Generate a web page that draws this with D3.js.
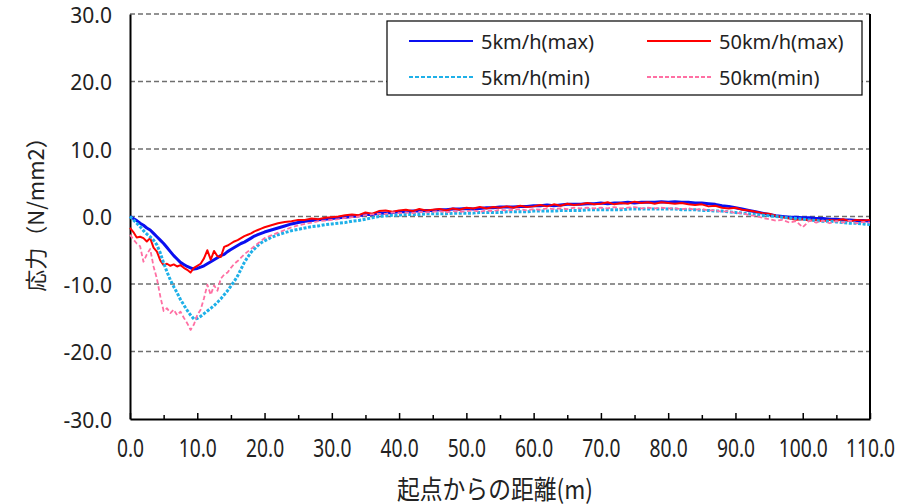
<!DOCTYPE html>
<html>
<head>
<meta charset="utf-8">
<script src="https://cdn.jsdelivr.net/npm/d3@7"></script>
<style>
  body { margin: 0; background: #fff; }
  svg { display: block; }
</style>
</head>
<body>
<svg id="chart" width="903" height="504"></svg>
<script>
// Distance from the start point (m): 0.5 m steps up to 20 m, then 1 m steps
const distance = [
  0, 0.5, 1, 1.5, 2, 2.5, 3, 3.5, 4, 4.5, 5, 5.5, 6, 6.5, 7, 7.5, 8, 8.5, 9, 9.5,
  10, 10.5, 11, 11.5, 12, 12.5, 13, 13.5, 14, 14.5, 15, 15.5, 16, 16.5, 17, 17.5, 18, 18.5, 19, 19.5, 20,
  21, 22, 23, 24, 25, 26, 27, 28, 29, 30,
  31, 32, 33, 34, 35, 36, 37, 38, 39, 40,
  41, 42, 43, 44, 45, 46, 47, 48, 49, 50,
  51, 52, 53, 54, 55, 56, 57, 58, 59, 60,
  61, 62, 63, 64, 65, 66, 67, 68, 69, 70,
  71, 72, 73, 74, 75, 76, 77, 78, 79, 80,
  81, 82, 83, 84, 85, 86, 87, 88, 89, 90,
  91, 92, 93, 94, 95, 96, 97, 98, 99, 100,
  101, 102, 103, 104, 105, 106, 107, 108, 109, 110
];

// Stress (N/mm2), 5 km/h, maximum
const max5kmh = [
  0, -0.3, -0.6, -1.0, -1.3, -1.7, -2.0, -2.5, -3.0, -3.5,
  -4.0, -4.6, -5.2, -5.8, -6.3, -6.8, -7.1, -7.4, -7.6, -7.8,
  -7.7, -7.5, -7.3, -7.0, -6.7, -6.4, -6.1, -5.8, -5.6, -5.2,
  -4.9, -4.6, -4.3, -4.0, -3.8, -3.5, -3.2, -2.9, -2.7, -2.5, -2.3,
  -2.0, -1.7, -1.4, -1.1, -0.9, -0.7, -0.6, -0.5, -0.4, -0.3,
  -0.2, -0.1, 0.0, 0.1, 0.3, 0.3, 0.5, 0.5, 0.6, 0.7,
  0.7, 0.8, 0.8, 0.9, 0.9, 1.0, 1.0, 1.1, 1.1, 1.2,
  1.1, 1.2, 1.3, 1.3, 1.4, 1.4, 1.4, 1.5, 1.5, 1.6,
  1.6, 1.7, 1.6, 1.7, 1.8, 1.8, 1.8, 1.9, 1.9, 2.0,
  1.9, 2.0, 2.0, 2.1, 2.0, 2.1, 2.1, 2.1, 2.2, 2.1,
  2.2, 2.1, 2.1, 2.0, 2.0, 1.9, 1.8, 1.6, 1.5, 1.3,
  1.1, 0.9, 0.7, 0.5, 0.3, 0.1, 0.0, -0.1, -0.1, -0.2,
  -0.2, -0.3, -0.3, -0.4, -0.4, -0.5, -0.5, -0.6, -0.6, -0.7
];

// Stress (N/mm2), 50 km/h, maximum
const max50kmh = [
  -1.7, -2.3, -3.1, -3.0, -3.2, -3.7, -3.2, -4.6, -5.2, -6.5,
  -7.2, -7.0, -7.3, -7.1, -7.4, -7.2, -7.6, -7.9, -8.3, -7.6,
  -7.3, -7.0, -6.2, -5.0, -6.4, -5.1, -5.9, -6.0, -4.5, -4.3,
  -4.0, -3.7, -3.5, -3.2, -2.9, -2.7, -2.5, -2.2, -2.0, -1.8, -1.6,
  -1.3, -1.0, -0.8, -0.7, -0.5, -0.5, -0.3, -0.4, -0.2, -0.1,
  0.0, 0.2, 0.3, 0.2, 0.6, 0.4, 0.8, 0.9, 0.7, 0.9,
  1.0, 0.8, 1.1, 0.9, 1.0, 1.1, 0.9, 1.2, 1.0, 1.3,
  1.2, 1.4, 1.2, 1.4, 1.3, 1.5, 1.3, 1.6, 1.4, 1.5,
  1.7, 1.5, 1.8, 1.6, 1.9, 1.7, 1.8, 2.0, 1.8, 1.9,
  2.1, 1.8, 2.0, 1.9, 2.2, 2.0, 2.1, 1.9, 2.1, 2.0,
  1.9, 2.0, 1.8, 1.7, 1.8, 1.5, 1.6, 1.3, 1.2, 1.3,
  1.0, 0.9, 0.7, 0.5, 0.4, 0.1, -0.1, -0.3, -0.5, -0.4,
  -0.6, -0.5, -0.7, -0.5, -0.6, -0.4, -0.7, -0.5, -0.6, -0.5
];

// Stress (N/mm2), 5 km/h, minimum
const min5kmh = [
  0, -0.5, -1.0, -1.5, -2.1, -2.6, -3.0, -3.5, -4.2, -5.4,
  -6.9, -8.2, -9.4, -10.4, -11.3, -12.3, -13.1, -13.9, -14.6, -15.2,
  -15.1, -14.8, -14.4, -14.0, -13.6, -13.2, -12.7, -12.2, -11.6, -11.0,
  -10.3, -9.6, -8.8, -7.8, -6.8, -6.0, -5.3, -4.8, -4.3, -3.9, -3.6,
  -3.1, -2.7, -2.4, -2.1, -1.9, -1.7, -1.5, -1.4, -1.2, -1.1,
  -1.0, -0.9, -0.7, -0.6, -0.4, -0.2, 0.0, 0.1, 0.2, 0.2,
  0.3, 0.3, 0.3, 0.4, 0.4, 0.4, 0.4, 0.5, 0.5, 0.5,
  0.5, 0.6, 0.6, 0.6, 0.6, 0.7, 0.7, 0.7, 0.7, 0.8,
  0.8, 0.8, 0.8, 0.9, 0.9, 0.9, 0.9, 1.0, 1.0, 1.0,
  1.0, 1.0, 1.0, 1.1, 1.1, 1.1, 1.1, 1.1, 1.1, 1.1,
  1.1, 1.0, 1.0, 1.0, 0.9, 0.9, 0.8, 0.8, 0.7, 0.6,
  0.5, 0.4, 0.3, 0.2, 0.1, 0.0, -0.1, -0.2, -0.3, -0.4,
  -0.5, -0.6, -0.7, -0.7, -0.8, -0.9, -1.0, -1.0, -1.1, -1.2
];

// Stress (N/mm2), 50 km/h, minimum
const min50kmh = [
  -2.7, -3.4, -4.0, -4.4, -6.7, -5.6, -4.8, -7.4, -9.2, -11.8,
  -14.0, -13.6, -14.3, -13.8, -14.6, -14.1, -15.0, -15.8, -16.8, -16.0,
  -14.6, -13.8, -12.1, -10.1, -11.6, -10.2, -11.0, -9.2, -8.6, -8.3,
  -7.6, -7.0, -6.6, -6.1, -5.6, -5.2, -4.8, -4.4, -4.0, -3.6, -3.2,
  -2.8, -2.4, -2.0, -1.6, -1.3, -1.1, -0.9, -0.7, -0.6, -0.5,
  -0.4, -0.2, -0.1, 0.0, 0.2, 0.3, 0.4, 0.4, 0.6, 0.5,
  0.6, 0.5, 0.7, 0.6, 0.7, 0.8, 0.6, 0.8, 0.7, 0.8,
  0.9, 0.7, 0.9, 0.8, 1.0, 0.9, 1.0, 1.1, 0.9, 1.1,
  1.0, 1.2, 1.1, 1.2, 1.1, 1.3, 1.2, 1.3, 1.2, 1.3,
  1.2, 1.4, 1.2, 1.3, 1.4, 1.2, 1.3, 1.2, 1.3, 1.2,
  1.2, 1.1, 1.2, 1.0, 1.1, 0.9, 0.9, 0.7, 0.8, 0.5,
  0.5, 0.2, 0.1, -0.2, -0.4, -0.6, -0.5, -0.9, -0.7, -1.6,
  -0.6, -0.9, -0.6, -1.0, -0.7, -0.9, -0.6, -1.0, -0.8, -0.9
];

const yTicks = [-30, -20, -10, 0, 10, 20, 30];
const xTicks = [0, 10, 20, 30, 40, 50, 60, 70, 80, 90, 100, 110];
const xMinorTicks = [5, 15, 25, 35, 45, 55, 65, 75, 85, 95, 105];
const seriesNames = ["5km/h(max)", "50km/h(max)", "5km/h(min)", "50km(min)"];
const xTitle = "起点からの距離(m)";
const yTitle = "応力（N/mm2）";

const series = [
  { name: seriesNames[0], values: max5kmh,  color: "#0a0ff0", width: 3,   dash: null },
  { name: seriesNames[1], values: max50kmh, color: "#ff0000", width: 2,   dash: null },
  { name: seriesNames[2], values: min5kmh,  color: "#1eb0e8", width: 3,   dash: "3,1.6" },
  { name: seriesNames[3], values: min50kmh, color: "#ff6fa3", width: 1.8, dash: "4.5,2.5" }
];

const plotLeft = 130, plotRight = 870, plotTop = 14, plotBottom = 419;
const svg = d3.select("#chart");
const x = d3.scaleLinear().domain([0, 110]).range([plotLeft, plotRight]);
const y = d3.scaleLinear().domain([-30, 30]).range([plotBottom, plotTop]);
const fmt = d => d.toFixed(1);

// horizontal dashed gridlines
svg.append("g")
  .selectAll("line")
  .data(yTicks.filter(v => v > -30))
  .join("line")
  .attr("x1", plotLeft).attr("x2", plotRight)
  .attr("y1", d => y(d)).attr("y2", d => y(d))
  .attr("stroke", "#6f6f6f")
  .attr("stroke-width", 1.3)
  .attr("stroke-dasharray", "5,3");

// right border of the plot area
svg.append("line")
  .attr("x1", plotRight).attr("x2", plotRight).attr("y1", plotTop).attr("y2", plotBottom)
  .attr("stroke", "#000").attr("stroke-width", 2);

// y axis
const yAxis = svg.append("g")
  .attr("transform", `translate(${plotLeft},0)`)
  .call(d3.axisLeft(y).tickValues(yTicks).tickSize(0).tickSizeOuter(0).tickPadding(18).tickFormat(fmt));
yAxis.select(".domain").attr("stroke", "#000").attr("stroke-width", 2);
yAxis.selectAll("text")
  .attr("font-family", "'Noto Sans', sans-serif")
  .attr("font-size", 21)
  .attr("fill", "#222")
  .attr("dy", null)
  .attr("dominant-baseline", "central");

// x axis: minor ticks
svg.append("g")
  .attr("transform", `translate(0,${plotBottom})`)
  .call(d3.axisBottom(x).tickValues(xMinorTicks).tickSizeInner(-4).tickSizeOuter(0).tickFormat(""))
  .call(g => g.select(".domain").remove())
  .selectAll("line").attr("stroke", "#000").attr("stroke-width", 1.5);

// x axis: major ticks and labels
const xAxis = svg.append("g")
  .attr("transform", `translate(0,${plotBottom})`)
  .call(d3.axisBottom(x).tickValues(xTicks).tickSizeInner(-6).tickSizeOuter(0).tickFormat(fmt));
xAxis.select(".domain").attr("stroke", "#000").attr("stroke-width", 2);
xAxis.selectAll(".tick line").attr("stroke", "#000").attr("stroke-width", 1.5);
xAxis.selectAll("text")
  .attr("font-family", "'Noto Sans', sans-serif")
  .attr("font-size", 26)
  .attr("fill", "#222")
  .attr("y", 28)
  .attr("dy", null)
  .attr("dominant-baseline", "central")
  .attr("transform", "scale(0.74,1)");

// data lines
const line = d3.line()
  .x((d, i) => x(distance[i]))
  .y(d => y(d));

svg.append("g")
  .selectAll("path")
  .data(series)
  .join("path")
  .attr("d", s => line(s.values.slice(0, distance.length)))
  .attr("fill", "none")
  .attr("stroke", s => s.color)
  .attr("stroke-width", s => s.width)
  .attr("stroke-linejoin", "round")
  .attr("stroke-dasharray", s => s.dash);

// legend
const lg = svg.append("g");
lg.append("rect")
  .attr("x", 387).attr("y", 21).attr("width", 475).attr("height", 74)
  .attr("fill", "#fff").attr("stroke", "#000").attr("stroke-width", 1.2);

const legendPos = [
  { lx: 409, ty: 41 }, { lx: 647, ty: 41 },
  { lx: 409, ty: 77 }, { lx: 647, ty: 77 }
];
const items = lg.selectAll("g.item").data(series).join("g").attr("class", "item")
  .attr("transform", (d, i) => `translate(${legendPos[i].lx},${legendPos[i].ty})`);
items.append("line")
  .attr("x1", 0).attr("x2", 64).attr("y1", 0).attr("y2", 0)
  .attr("stroke", d => d.color)
  .attr("stroke-width", 2)
  .attr("stroke-dasharray", d => d.dash ? "4,2" : null);
items.append("text")
  .attr("x", 72).attr("y", 0)
  .attr("dominant-baseline", "central")
  .attr("font-family", "'Noto Sans', sans-serif")
  .attr("font-size", 20)
  .attr("fill", "#222")
  .text(d => d.name);

// axis titles
svg.append("text")
  .attr("x", 495).attr("y", 487)
  .attr("text-anchor", "middle")
  .attr("dominant-baseline", "central")
  .attr("font-family", "'Noto Sans CJK JP', sans-serif")
  .attr("font-size", 26)
  .attr("fill", "#222")
  .attr("textLength", 196)
  .attr("lengthAdjust", "spacingAndGlyphs")
  .text(xTitle);

svg.append("text")
  .attr("transform", "translate(34,209) rotate(-90)")
  .attr("text-anchor", "middle")
  .attr("dominant-baseline", "central")
  .attr("font-family", "'Noto Sans CJK JP', sans-serif")
  .attr("font-size", 22)
  .attr("fill", "#222")
  .text(yTitle);
</script>
</body>
</html>
